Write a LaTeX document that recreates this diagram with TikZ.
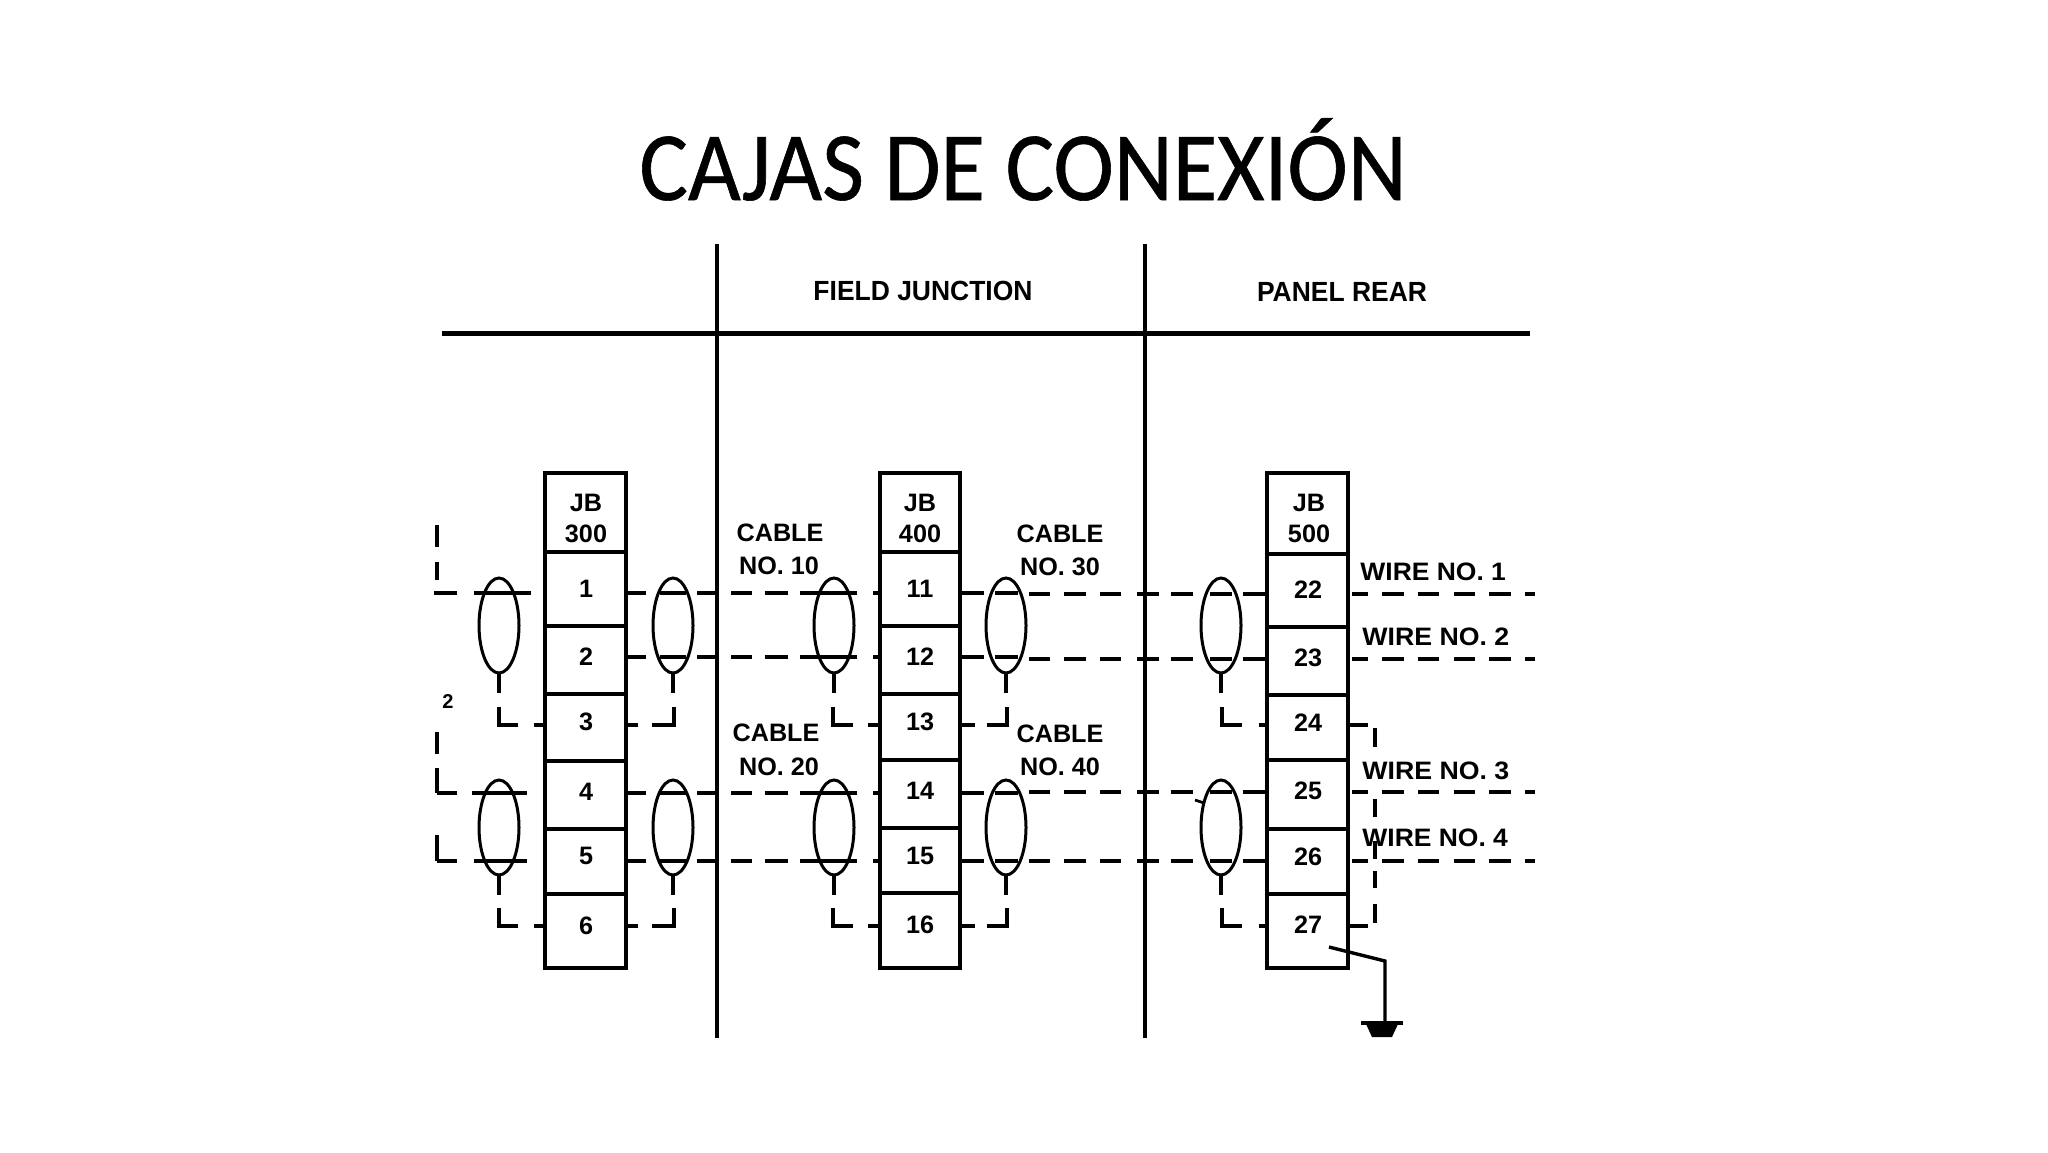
\documentclass[tikz,border=0pt]{standalone}
\usepackage{fontspec}
\setmainfont{Liberation Sans}
\newfontfamily\titlefont[FakeBold=0.6]{Carlito}
\tikzset{
  boxln/.style={line width=1.8pt,draw=black},
  wire/.style={line width=1.7pt,draw=black},
  thinwire/.style={line width=1.4pt,draw=black},
  shieldloop/.style={line width=1.5pt,draw=black},
  lbl/.style={inner sep=0pt,font=\fontsize{12.6}{13}\selectfont\bfseries},
  lblw/.style={lbl,anchor=west},
}
\newcommand{\segs}[2]{\foreach \a/\b in {#2} {\draw[wire] (\a,#1) -- (\b,#1);}}
\newcommand{\vsegs}[2]{\foreach \a/\b in {#2} {\draw[wire] (#1,\a) -- (#1,\b);}}
\newcommand{\jbox}[4]{%
  \draw[boxln] (#1,#3) rectangle (#2,968);
  \foreach \d in {#4} {\draw[boxln] (#1,\d) -- (#2,\d);}}
\newcommand{\shield}[2]{% x, top-of-ellipse y
  \draw[shieldloop] (#1,#2+47.5) ellipse [x radius=20,y radius=47.5];
  \draw[wire] (#1,#2+95) -- (#1,#2+115);}
\begin{document}
\begin{tikzpicture}[x=0.5pt,y=-0.5pt]
\useasboundingbox (0,0) rectangle (2048,1152);
\fill[white] (0,0) rectangle (2048,1152);
% title
\node[inner sep=0pt,anchor=base] (title) at (1023,200) {\scalebox{0.93}[1]{\titlefont\fontsize{49}{50}\selectfont CAJAS DE CONEXIÓN}};
% frame lines
\draw[line width=2.5pt] (442,333) -- (1530,333);
\draw[line width=2.2pt] (717,244) -- (717,1038);
\draw[line width=2.2pt] (1145,244) -- (1145,1038);
\node[lbl] (field) at (923,291) {\scalebox{1.05}[1.1]{FIELD JUNCTION}};
\node[lbl] (panel) at (1342,292) {\scalebox{1.05}[1.1]{PANEL REAR}};
% boxes
\jbox{545}{626}{473}{552,626,694,761,829,894}
\jbox{880}{960}{473}{552,626,694,760,828,893}
\jbox{1267}{1348}{473}{554,627,695,760,829,894}
% cell labels
\node[lbl] (jb3a) at (586,503) {JB};
\node[lbl] (jb3b) at (586,534) {300};
\node[lbl] (jb4a) at (920,503) {JB};
\node[lbl] (jb4b) at (920,534) {400};
\node[lbl] (jb5a) at (1309,503) {JB};
\node[lbl] (jb5b) at (1309,534) {500};
\foreach \n/\y in {1/589,2/657,3/722,4/792,5/856,6/926} {\node[lbl] (c\n) at (586,\y) {\n};}
\foreach \n/\y in {11/589,12/657,13/722,14/791,15/856,16/925} {\node[lbl] (c\n) at (920,\y) {\n};}
\foreach \n/\y in {22/590,23/658,24/723,25/791,26/857,27/925} {\node[lbl] (c\n) at (1308,\y) {\n};}
% cable / wire labels
\node[lbl] (k10a) at (780,533) {CABLE};
\node[lbl] (k10b) at (779,566) {NO. 10};
\node[lbl] (k20a) at (776,733) {CABLE};
\node[lbl] (k20b) at (779,767) {NO. 20};
\node[lbl] (k30a) at (1060,534) {CABLE};
\node[lbl] (k30b) at (1060,567) {NO. 30};
\node[lbl] (k40a) at (1060,734) {CABLE};
\node[lbl] (k40b) at (1060,767) {NO. 40};
\node[lblw] (w1) at (1360,572) {\scalebox{1.05}[1]{WIRE NO. 1}};
\node[lblw] (w2) at (1362,637) {\scalebox{1.06}[1]{WIRE NO. 2}};
\node[lblw] (w3) at (1362,771) {\scalebox{1.06}[1]{WIRE NO. 3}};
\node[lblw] (w4) at (1362,838) {\scalebox{1.05}[1]{WIRE NO. 4}};
\node[lbl,font=\fontsize{10}{10}\selectfont\bfseries] (two) at (448,702) {2};
% shields
\foreach \x in {499,673,834,1006} {\shield{\x}{578}\shield{\x}{780}}
\shield{1221}{578}\shield{1221}{780}
\draw[thinwire] (1195,800) -- (1204,803);
% main wire rows
\foreach \y/\d in {593/594,657/659,793/792,861/861} {
  \segs{\y}{627/646,660/686,697/717,731/752,765/788,800/857,873/880,960/984,995/1018}
  \segs{\d}{1029/1050,1064/1086,1100/1121,1137/1159,1171/1193,1210/1232,1243/1267,1352/1368,1382/1404,1418/1439,1454/1475,1489/1511,1525/1535}
}
% far left wires
\segs{593}{434/457,474/531}
\segs{793}{437/457,472/527}
\segs{861}{437/457,474/527}
\vsegs{437}{525/547,562/580,732/754,768/793,835/861}
% L-shaped drains, rows 3 and 6
\foreach \t/\y in {707/725,908/926} {
  \draw[wire] (499,\t) -- (499,\y) -- (518,\y);
  \segs{\y}{534/545,627/638}
  \draw[wire] (652,\y) -- (674,\y) -- (674,\t);
  \draw[wire] (833,\t) -- (833,\y) -- (853,\y);
  \segs{\y}{868/880,961/975}
  \draw[wire] (987,\y) -- (1007,\y) -- (1007,\t);
  \draw[wire] (1222,\t) -- (1222,\y) -- (1242,\y);
  \segs{\y}{1259/1267,1350/1368}
}
% panel-side drain
\vsegs{1375}{728/747,799/817,841/859,871/888,904/923}
% ground
\draw[wire] (1329,947) -- (1385,961) -- (1385,1023);
\draw[line width=2pt] (1361,1023) -- (1403,1023);
\fill (1366,1024) -- (1398,1024) -- (1392,1037) -- (1372,1037) -- cycle;
\end{tikzpicture}
\end{document}
